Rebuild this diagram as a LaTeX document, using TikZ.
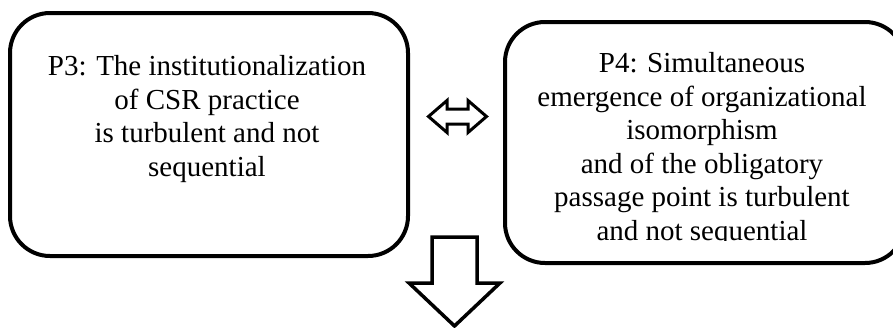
\documentclass[tikz,border=0pt]{standalone}
\usepackage{fontspec}
\setmainfont{Liberation Serif}
\usepackage{tikz}
\usetikzlibrary{positioning}

\tikzset{
  propbox/.style={draw, line width=4pt, rounded corners=40pt},
  proptext/.style={inner sep=0pt, align=center, font=\fontsize{29}{33.5}\selectfont},
  blockarrow/.style={draw, line width=3.5pt, fill=white}
}

\begin{document}
\begin{tikzpicture}[x=1pt, y=-1pt]
      %\draw [dotted] (0,0) grid[step=50] (893,327);
      \clip (0,0) rectangle (893,327);
      \node [propbox, minimum width=398pt, minimum height=243pt] (p3) at (209,134.5) {};
      \node [proptext, anchor=north] (t3) at (207,55.5) {P3: The institutionalization\\of CSR practice\\is turbulent and not\\sequential};
      \node [propbox, minimum width=400pt, minimum height=241pt] (p4) at (705,142.5) {};
      \begin{scope}
        \clip (p4.north west) rectangle (905,240.5);
        \node [proptext, anchor=north] (t4) at (702,52.5) {P4: Simultaneous\\emergence of organizational\\isomorphism\\and of the obligatory\\passage point is turbulent\\and not sequential};
      \end{scope}
      % between the two boxes
      \coordinate (both) at (457.5,116.5);
      \draw [blockarrow, line width=3pt, shift={(both)}]
        (-29,0) -- (-10.5,-16) -- (-10.5,-7.5) -- (10.5,-7.5) -- (10.5,-16)
        -- (29,0) -- (10.5,16) -- (10.5,7.5) -- (-10.5,7.5) -- (-10.5,16) -- cycle;
      % below
      \coordinate (down) at (454.5,237);
      \draw [blockarrow, shift={(down)}]
        (-22.5,0) -- (22.5,0) -- (22.5,46) -- (45.5,46) -- (0,89)
        -- (-45.5,46) -- (-22.5,46) -- cycle;
\end{tikzpicture}
\end{document}
